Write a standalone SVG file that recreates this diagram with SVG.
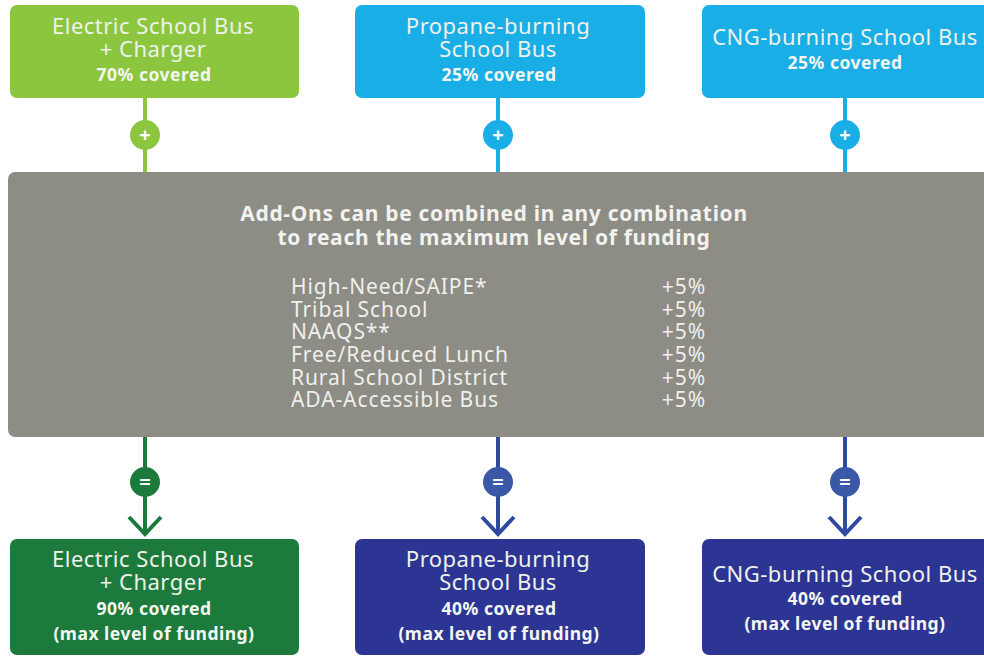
<svg xmlns="http://www.w3.org/2000/svg" width="984" height="658" viewBox="0 0 984 658">
<defs>
<style>
.t{font-family:"Noto Sans","Open Sans",sans-serif;text-anchor:middle}
.h{font-size:22px;letter-spacing:0.5px;fill:#eef2ea}
.b{font-size:17.5px;font-weight:bold;letter-spacing:0.5px;fill:#f4f6f2}
.g{font-size:21px;font-weight:bold;letter-spacing:0.7px;fill:#f2f2ee}
.l{font-family:"Noto Sans","Open Sans",sans-serif;font-size:21px;letter-spacing:0.9px;fill:#f0f0ec}
.sym{font-family:"Noto Sans",sans-serif;font-weight:bold;font-size:20px;fill:#fff;text-anchor:middle}
.ln{fill:none;stroke-width:4}
</style>
</defs>
<rect width="984" height="658" fill="#ffffff"/>
<g id="connectors">
<line class="ln" x1="145" y1="98" x2="145" y2="173" stroke="#8cc63f"/>
<line class="ln" x1="498" y1="98" x2="498" y2="173" stroke="#1aaee6"/>
<line class="ln" x1="845" y1="98" x2="845" y2="173" stroke="#1aaee6"/>
<line class="ln" x1="145" y1="436" x2="145" y2="533" stroke="#1b7a3c"/>
<polyline class="ln" points="129,517 145,534 161,517" stroke="#1b7a3c"/>
<line class="ln" x1="498" y1="436" x2="498" y2="533" stroke="#2f4a9e"/>
<polyline class="ln" points="482,517 498,534 514,517" stroke="#2f4a9e"/>
<line class="ln" x1="845" y1="436" x2="845" y2="533" stroke="#2f4a9e"/>
<polyline class="ln" points="829,517 845,534 861,517" stroke="#2f4a9e"/>
<circle cx="145" cy="135" r="15" fill="#8cc63f"/>
<text class="sym" x="145" y="142">+</text>
<circle cx="498" cy="135" r="15" fill="#1aaee6"/>
<text class="sym" x="498" y="142">+</text>
<circle cx="845" cy="135" r="15" fill="#1aaee6"/>
<text class="sym" x="845" y="142">+</text>
<circle cx="145" cy="482" r="15" fill="#1b7a3c"/>
<text class="sym" x="145" y="489">=</text>
<circle cx="498" cy="482" r="15" fill="#3a58a6"/>
<text class="sym" x="498" y="489">=</text>
<circle cx="845" cy="482" r="15" fill="#3a58a6"/>
<text class="sym" x="845" y="489">=</text>
</g>
<g id="top-electric">
<rect x="10" y="5" width="289" height="93" rx="7" fill="#8cc63f"/>
<text class="t h" x="153" y="34">Electric School Bus</text>
<text class="t h" x="153" y="57">+ Charger</text>
<text class="t b" x="154" y="81">70% covered</text>
</g>
<g id="top-propane">
<rect x="355" y="5" width="290" height="93" rx="7" fill="#1aaee6"/>
<text class="t h" x="498" y="34">Propane-burning</text>
<text class="t h" x="498" y="57">School Bus</text>
<text class="t b" x="499" y="81">25% covered</text>
</g>
<g id="top-cng">
<rect x="702" y="5" width="290" height="93" rx="7" fill="#1aaee6"/>
<text class="t h" x="845" y="45">CNG-burning School Bus</text>
<text class="t b" x="845" y="69">25% covered</text>
</g>
<g id="addons">
<rect x="8" y="172" width="984" height="265" rx="7" fill="#8d8c85"/>
<text class="t g" x="494" y="221">Add-Ons can be combined in any combination</text>
<text class="t g" x="494" y="245">to reach the maximum level of funding</text>
<text class="l" x="291" y="294">High-Need/SAIPE*</text>
<text class="l" x="291" y="317">Tribal School</text>
<text class="l" x="291" y="339">NAAQS**</text>
<text class="l" x="291" y="362">Free/Reduced Lunch</text>
<text class="l" x="291" y="385">Rural School District</text>
<text class="l" x="291" y="407">ADA-Accessible Bus</text>
<g class="l" text-anchor="end">
<text x="706" y="294">+5%</text>
<text x="706" y="317">+5%</text>
<text x="706" y="339">+5%</text>
<text x="706" y="362">+5%</text>
<text x="706" y="385">+5%</text>
<text x="706" y="407">+5%</text>
</g>
</g>
<g id="bottom-electric">
<rect x="10" y="539" width="289" height="116" rx="7" fill="#1b7a3c"/>
<text class="t h" x="153" y="567">Electric School Bus</text>
<text class="t h" x="153" y="590">+ Charger</text>
<text class="t b" x="154" y="615">90% covered</text>
<text class="t b" x="154" y="640">(max level of funding)</text>
</g>
<g id="bottom-propane">
<rect x="355" y="539" width="290" height="116" rx="7" fill="#2c3593"/>
<text class="t h" x="498" y="567">Propane-burning</text>
<text class="t h" x="498" y="590">School Bus</text>
<text class="t b" x="499" y="615">40% covered</text>
<text class="t b" x="499" y="640">(max level of funding)</text>
</g>
<g id="bottom-cng">
<rect x="702" y="539" width="290" height="116" rx="7" fill="#2c3593"/>
<text class="t h" x="845" y="582">CNG-burning School Bus</text>
<text class="t b" x="845" y="605">40% covered</text>
<text class="t b" x="845" y="630">(max level of funding)</text>
</g>
</svg>
